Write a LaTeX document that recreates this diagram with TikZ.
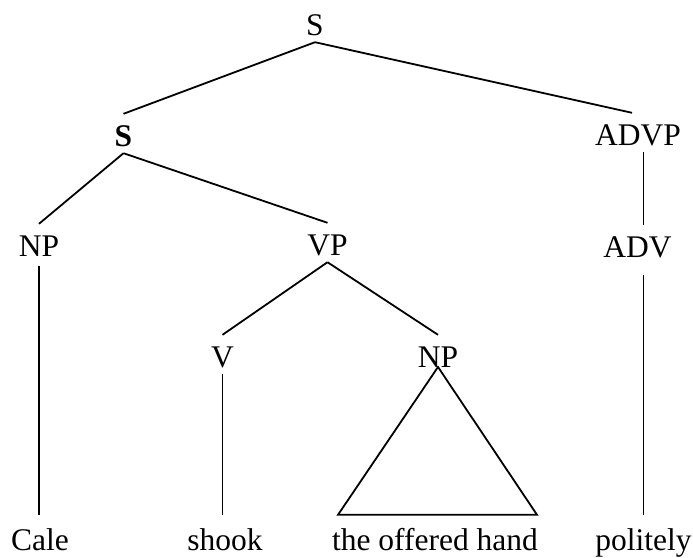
\documentclass[tikz,border=0pt]{standalone}
\usepackage{fontspec}
\setmainfont{Liberation Serif}
\usetikzlibrary{calc}
\begin{document}
\begin{tikzpicture}[x=1pt,y=-1pt,
  lab/.style={font=\fontsize{31.5}{36}\selectfont, inner sep=0pt, text height=32pt, text depth=7pt, anchor=base},
  boldlab/.style={lab, font=\fontsize{31.5}{36}\selectfont\bfseries},
  leaf/.style={lab, text height=35pt},
  edge/.style={line width=1.8pt, black}]
\useasboundingbox (0,0) rectangle (693,557);
% labels
\node[lab] (s) at (315,35) {S};
\node[boldlab] (sb) at (123.5,146) {S};
\node[lab] (advp) at (638,145) {ADVP};
\node[lab, text depth=10pt] (np) at (39,256) {NP};
\node[lab] (vp) at (327.5,255) {VP};
\node[lab, text depth=18pt] (adv) at (637.5,257) {ADV};
\node[lab] (v) at (222.5,367) {V};
\node[lab, text depth=1pt] (np2) at (438,367) {NP};
\node[leaf] (cale) at (40,550) {Cale};
\node[leaf] (shook) at (225,550) {shook};
\node[leaf] (hand) at (435,550) {the offered hand};
\node[leaf] (pol) at (643.5,550) {politely};
% connectors
\draw[edge] (s.south) -- (sb.north);
\draw[edge] (s.south) -- ($(advp.north)+(-6,0)$);
\draw[edge] (sb.south) -- (np.north);
\draw[edge] (sb.south) -- (vp.north);
\draw[edge] (np.south) -- (np.south |- cale.north);
\draw[edge] (vp.south) -- (v.north);
\draw[edge] (vp.south) -- (np2.north);
\draw[edge] (v.south) -- (v.south |- shook.north);
\draw[edge] (advp.south -| pol.base) -- (adv.north -| pol.base);
\draw[edge] (adv.south -| pol.base) -- (pol.north);
\draw[edge] (np2.base) -- ($(hand.north)+(-97,0)$) -- ($(hand.north)+(102,0)$) -- cycle;
\end{tikzpicture}
\end{document}
